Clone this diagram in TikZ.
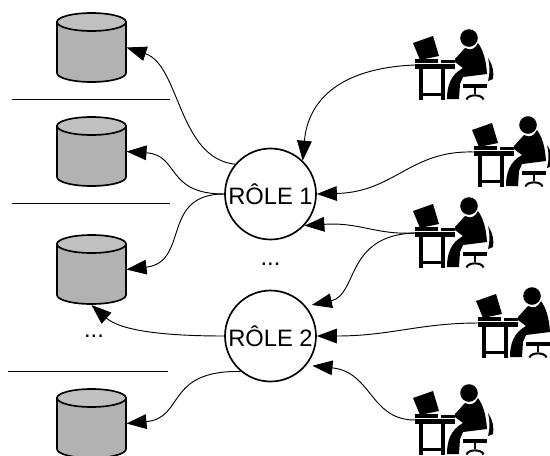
\documentclass[tikz,border=0pt]{standalone}
\usepackage{fontspec}
\setmainfont{Liberation Sans}
\usetikzlibrary{arrows.meta}
\definecolor{cylbody}{HTML}{B2B2B2}
\definecolor{cyltop}{HTML}{C0C0C0}
\tikzset{
  store/.pic={
    \coordinate (-right) at (35,0);
    \coordinate (-bottom) at (0,35.5);
    \filldraw[fill=cylbody,line width=1.25pt] (-34.5,-25.5) -- (-34.5,25.5)
      arc[start angle=180,end angle=0,x radius=34.5,y radius=9] -- (34.5,-25.5) -- cycle;
    \filldraw[fill=cyltop,line width=1.25pt] (0,-25.5) ellipse [x radius=34.5,y radius=9];
  },
  worker/.pic={
    \coordinate (-desk) at (0,0);
    \fill (-2,-22) -- (18,-29) -- (24,-9) -- (5,-5) -- cycle;
    \fill (0,-6) rectangle (23,-2.5);
    \fill (26,-5) rectangle (40,-2.5);
    \fill (0,-1) rectangle (40,3.5);
    \fill (4,3.5) rectangle (8,35);
    \fill (26,3.5) rectangle (30,35);
    \fill (8,28) rectangle (26,31);
    \fill (54,-27) circle (8.8);
    \fill (40,-6) -- (50,-17) .. controls (56,-14) and (60,-16) .. (63,-22)
      .. controls (68,-15) and (71,-6) .. (72,9) -- (48,12) -- (45,19) -- (44,34) -- (32,34)
      .. controls (32,22) and (35,10) .. (48,3) -- (40,-3) -- cycle;
    \fill (73,-7) .. controls (78,0) and (79,8) .. (78,14) -- (73,16)
      .. controls (75,8) and (75,0) .. cycle;
    \fill (48,19) rectangle (72,23);
    \fill (59,23) rectangle (61,29);
    \draw[line width=1.5pt] (51.5,34.5) .. controls (53,29) and (67,29) .. (68.5,34.5);
  }
}
\begin{document}
\begin{tikzpicture}[x=0.75pt,y=-0.75pt]
  \tikzset{
    role/.style={draw=black,line width=1.25pt,circle,fill=white,inner sep=0pt,minimum size=68.25pt,font=\fontsize{17.8}{20}\selectfont},
    dots/.style={inner sep=0pt,font=\fontsize{17.8}{20}\selectfont},
    sepline/.style={line width=0.75pt},
    link/.style={line width=0.7pt,-{Triangle[length=15pt,width=11pt]}}
  }
  \clip (0,0) rectangle (550,455);
  \pic (cyl1) at (91.5,47.5) {store};
  \pic (cyl2) at (91.5,151.5) {store};
  \pic (cyl3) at (91.5,269.5) {store};
  \pic (cyl4) at (91.5,423.5) {store};
  \draw[sepline] (12,99) -- (170,99);
  \draw[sepline] (12,203) -- (170,203);
  \draw[sepline] (8,371) -- (168,371);
  \node[role] (role1) at (270.5,194) {RÔLE 1};
  \node[role] (role2) at (270.5,336) {RÔLE 2};
  \node[dots] (dots1) at (270.5,264) {...};
  \node[dots] (dots2) at (94,336) {...};
  \pic (p1) at (415,65) {worker};
  \pic (p2) at (474,152) {worker};
  \pic (p3) at (415,233) {worker};
  \pic (p4) at (478,323) {worker};
  \pic (p5) at (415,420) {worker};
  \draw[link] (role1.140) .. controls (178,158) and (180,65) .. (cyl1-right);
  \draw[link] (role1.west) .. controls (165,194) and (180,155) .. (cyl2-right);
  \draw[link] (role1.west) .. controls (160,194) and (190,262) .. (cyl3-right);
  \draw[link] (role2.west) .. controls (160,336) and (120,330) .. (cyl3-bottom);
  \draw[link] (role2.-130) .. controls (165,370) and (185,418) .. (cyl4-right);
  \draw[link] (p1-desk) .. controls (340,68) and (308,100) .. (role1.46);
  \draw[link] (p2-desk) .. controls (410,150) and (395,192) .. (role1.east);
  \draw[link] (p3-desk) .. controls (375,235) and (360,222) .. (role1.-43);
  \draw[link,shorten >=4.5pt] (p3-desk) .. controls (345,235) and (358,295) .. (role2.40);
  \draw[link] (p4-desk) .. controls (420,323) and (390,336) .. (role2.east);
  \draw[link,shorten >=4.5pt] (p5-desk) .. controls (370,420) and (372,372) .. (role2.-39);
\end{tikzpicture}
\end{document}
